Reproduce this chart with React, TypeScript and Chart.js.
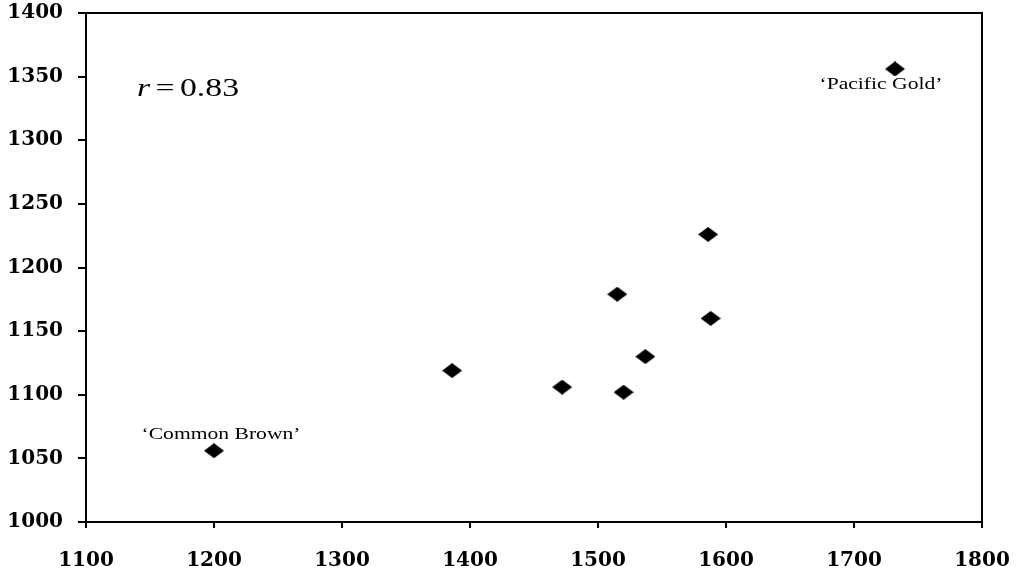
import React, { useEffect, useRef } from "react";
import { Chart, registerables } from "chart.js";

Chart.register(...registerables);

const xValues = [1200, 1386, 1472, 1515, 1520, 1537, 1586, 1588, 1732];
const yValues = [1056, 1119, 1106, 1179, 1102, 1130, 1226, 1160, 1356];
const pointLabels = ["‘Common Brown’", "", "", "", "", "", "", "", "‘Pacific Gold’"];
const xTicks = [1100, 1200, 1300, 1400, 1500, 1600, 1700, 1800];
const yTicks = [1000, 1050, 1100, 1150, 1200, 1250, 1300, 1350, 1400];
const correlationText = "0.83";

function makeDiamond(): HTMLCanvasElement {
  const c = document.createElement("canvas");
  const w = 20, h = 15;
  c.width = w; c.height = h;
  const g = c.getContext("2d")!;
  g.fillStyle = "#000";
  g.beginPath();
  g.moveTo(w / 2, 0);
  g.lineTo(w, h / 2);
  g.lineTo(w / 2, h);
  g.lineTo(0, h / 2);
  g.closePath();
  g.fill();
  return c;
}

const SX = 1.35;

const decorPlugin = {
  id: "decor",
  afterDraw(chart: any) {
    const { ctx, chartArea } = chart;
    const xs = chart.scales.x, ys = chart.scales.y;
    ctx.save();
    ctx.strokeStyle = "#000";
    ctx.lineWidth = 2;
    ctx.beginPath();
    ctx.moveTo(chartArea.left, chartArea.top);
    ctx.lineTo(chartArea.right, chartArea.top);
    ctx.lineTo(chartArea.right, chartArea.bottom);
    ctx.stroke();

    ctx.fillStyle = "#000";
    ctx.textAlign = "center";
    ctx.textBaseline = "middle";
    ctx.font = "16px 'Liberation Serif'";
    const offsets: Record<number, [number, number]> = { 0: [7, -16], 8: [-14, 16] };
    pointLabels.forEach((lbl, i) => {
      if (!lbl) return;
      const px = xs.getPixelForValue(xValues[i]);
      const py = ys.getPixelForValue(yValues[i]);
      const [dx, dy] = offsets[i] || [0, -16];
      ctx.save();
      ctx.translate(px + dx, py + dy);
      ctx.scale(SX, 1);
      ctx.fillText(lbl, 0, 0);
      ctx.restore();
    });

    // r = 0.83
    ctx.save();
    ctx.translate(chartArea.left + 51, chartArea.top + 76);
    ctx.scale(SX, 1);
    ctx.textAlign = "left";
    ctx.font = "italic 25px 'Liberation Serif'";
    ctx.fillText("r", 0, 0);
    let x = ctx.measureText("r").width + 4;
    ctx.font = "25px 'Liberation Serif'";
    ctx.fillText("=", x, 0);
    x += ctx.measureText("=").width + 4;
    ctx.fillText(correlationText, x, 0);
    ctx.restore();
    ctx.restore();
  },
};

const tickFont = { family: "'DejaVu Serif'", size: 20, weight: "bold" as const };

export default function App() {
  const ref = useRef<HTMLCanvasElement>(null);
  useEffect(() => {
    const diamond = makeDiamond();
    const chart = new Chart(ref.current!, {
      type: "scatter",
      data: {
        datasets: [
          {
            data: xValues.map((x, i) => ({ x, y: yValues[i] })),
            pointStyle: diamond as any,
            backgroundColor: "#000",
            borderColor: "#000",
          },
        ],
      },
      options: {
        animation: false,
        responsive: true,
        maintainAspectRatio: false,
        layout: { padding: { left: 0, right: 36, top: 13, bottom: 0 } },
        plugins: { legend: { display: false }, tooltip: { enabled: false } },
        scales: {
          x: {
            type: "linear",
            min: 1100,
            max: 1800,
            afterBuildTicks: (s: any) => { s.ticks = xTicks.map((v) => ({ value: v })); },
            afterFit: (s: any) => { s.height = 50; s.paddingLeft = 0; s.paddingRight = 0; },
            ticks: { color: "#000", padding: 21, maxRotation: 0, callback: (v: any) => String(v), font: tickFont },
            grid: { display: true, drawOnChartArea: false, drawTicks: true, tickLength: 6, color: "#000", lineWidth: 2 },
            border: { display: true, color: "#000", width: 2 },
          },
          y: {
            type: "linear",
            min: 1000,
            max: 1400,
            afterBuildTicks: (s: any) => { s.ticks = yTicks.map((v) => ({ value: v })); },
            afterFit: (s: any) => { s.width = 86; s.paddingTop = 0; s.paddingBottom = 0; },
            ticks: { color: "#000", padding: 15, callback: (v: any) => String(v), font: tickFont },
            grid: { display: true, drawOnChartArea: false, drawTicks: true, tickLength: 8, color: "#000", lineWidth: 2 },
            border: { display: true, color: "#000", width: 2 },
          },
        },
      },
      plugins: [decorPlugin],
    });
    return () => chart.destroy();
  }, []);
  return (
    <div style={{ position: "fixed", left: 0, top: 0, width: 1018, height: 572, background: "#fff" }}>
      <canvas ref={ref} />
    </div>
  );
}
